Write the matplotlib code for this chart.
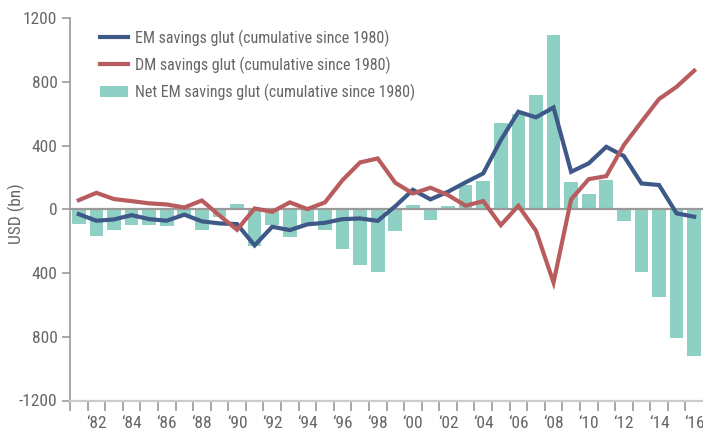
import matplotlib
matplotlib.use("Agg")
import matplotlib.pyplot as plt
import matplotlib.patches as mpatches
from matplotlib.legend_handler import HandlerPatch

plt.rcParams["font.family"] = ["Roboto Condensed", "Liberation Sans Narrow", "DejaVu Sans"]

years = list(range(1981, 2017))

net_em = [-90, -170, -128, -96, -96, -102, -45, -127, -50, 33,
          -228, -96, -171, -100, -127, -249, -347, -390, -137, 25,
          -68, 19, 151, 181, 540, 597, 716, 1097, 174, 99,
          186, -73, -396, -553, -810, -922]

em_glut = [-30, -71, -63, -36, -61, -71, -33, -75, -88, -92,
           -226, -109, -130, -94, -84, -61, -57, -72, 20, 123,
           63, 111, 170, 226, 435, 613, 578, 640, 236, 289,
           393, 335, 163, 153, -25, -46]

dm_glut = [58, 104, 65, 52, 38, 31, 12, 56, -38, -128,
           6, -15, 44, 2, 44, 184, 295, 320, 167, 100,
           136, 90, 23, 52, -99, 23, -134, -459, 63, 190,
           209, 404, 550, 693, 770, 871]

y_ticks = [1200, 800, 400, 0, -400, -800, -1200]
y_labels = ["1200", "800", "400", "0", "400", "800", "-1200"]
x_label_years = list(range(1982, 2017, 2))
x_labels = ["\u2018" + str(y)[2:] for y in x_label_years]

text_color = "#666666"
bar_color = "#8fd0c4"
blue = "#3e5888"
red = "#b85c5e"
fs = 12.5
legend_fs = 11.5


def square_patch(legend, orig_handle, xdescent, ydescent, width, height, fontsize):
    s = height * 1.43
    return mpatches.Rectangle((-xdescent + width - s - 1, -ydescent + (height - s) / 2), s, s)


fig = plt.figure(figsize=(7.03, 4.32), dpi=100)
ax = fig.add_axes([70 / 703, 1 - 400.5 / 432, 633 / 703, (400.5 - 18.3) / 432])

ax.bar(years, net_em, width=0.78, color=bar_color, zorder=2,
       label="Net EM savings glut (cumulative since 1980)")
ax.axhline(0, color="#9a9a9a", lw=1.6, zorder=2.5)
ax.plot(years, em_glut, color=blue, lw=3, zorder=3, solid_joinstyle="miter",
        label="EM savings glut (cumulative since 1980)")
ax.plot(years, dm_glut, color=red, lw=3, zorder=3, solid_joinstyle="miter",
        label="DM savings glut (cumulative since 1980)")

ax.set_xlim(1980.5, 2016.5)
ax.set_ylim(-1200, 1200)

for side in ["top", "right"]:
    ax.spines[side].set_visible(False)
ax.spines["left"].set_color("#9a9a9a")
ax.spines["left"].set_linewidth(1.2)
ax.spines["bottom"].set_color("#cccccc")
ax.spines["bottom"].set_linewidth(1.6)

ax.set_yticks(y_ticks)
ax.set_yticklabels(y_labels)
ax.tick_params(axis="y", length=6, width=1.2, color="#9a9a9a", pad=3,
               labelsize=fs, labelcolor=text_color)

ax.set_xticks([y + 0.5 for y in range(1980, 2016)])
ax.set_xticklabels([])
ax.tick_params(axis="x", which="major", length=7.5, width=1.2, color="#9a9a9a")
ax.set_xticks(x_label_years, minor=True)
ax.set_xticklabels(x_labels, minor=True)
ax.tick_params(axis="x", which="minor", length=0, pad=11, labelsize=fs,
               labelcolor=text_color)

ax.set_ylabel("USD (bn)", color=text_color, fontsize=fs)
ax.yaxis.set_label_coords(-0.071, 0.49)

handles, labels = ax.get_legend_handles_labels()
leg = fig.legend(handles, labels,
                 loc="upper left", bbox_to_anchor=(100 / 703, 1 - 29.3 / 432),
                 frameon=False, borderpad=0, borderaxespad=0, handlelength=1.75,
                 handletextpad=0.45, labelspacing=0.63, fontsize=legend_fs,
                 handler_map={mpatches.Rectangle: HandlerPatch(patch_func=square_patch)})
for t in leg.get_texts():
    t.set_color(text_color)

fig.savefig("out.png", dpi=100)
